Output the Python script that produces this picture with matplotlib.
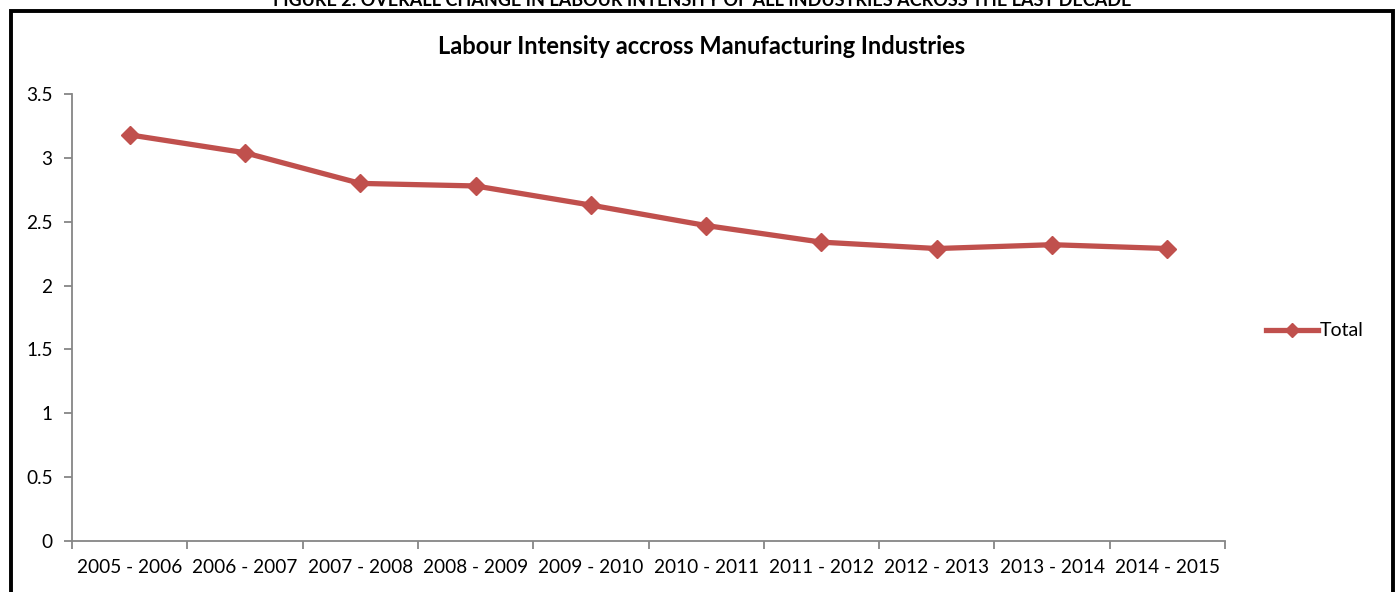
import matplotlib
matplotlib.use("Agg")
import matplotlib.pyplot as plt
from matplotlib.patches import Rectangle
from matplotlib.lines import Line2D

periods = ["2005 - 2006", "2006 - 2007", "2007 - 2008", "2008 - 2009", "2009 - 2010",
           "2010 - 2011", "2011 - 2012", "2012 - 2013", "2013 - 2014", "2014 - 2015"]
total = [3.18, 3.04, 2.80, 2.78, 2.63, 2.47, 2.34, 2.29, 2.32, 2.29]
yticks = [0, 0.5, 1, 1.5, 2, 2.5, 3, 3.5]
ytick_labels = ["0", "0.5", "1", "1.5", "2", "2.5", "3", "3.5"]

W, H = 1396, 592
fig = plt.figure(figsize=(W / 100, H / 100), dpi=100)
plt.rcParams['font.family'] = ['Lato', 'DejaVu Sans']

red = "#C0504D"
grey = "#868686"

ax = fig.add_axes([72 / W, 1 - 541 / H, (1225 - 72) / W, (541 - 94) / H])
x = list(range(len(periods)))
ax.plot(x, total, color=red, lw=3.8, marker="D", markersize=9.5,
        markerfacecolor=red, markeredgecolor=red, solid_joinstyle="round")
ax.set_xlim(-0.5, len(periods) - 0.5)
ax.set_ylim(0, 3.5)
ax.set_yticks(yticks)
ax.set_yticklabels(ytick_labels)
ax.set_xticks(x)
ax.set_xticklabels(periods)
ax.set_xticks([i - 0.5 for i in range(len(periods) + 1)], minor=True)
ax.tick_params(axis="x", which="major", length=0, pad=13, labelsize=13.7)
ax.tick_params(axis="x", which="minor", length=6, color=grey, width=1.3)
ax.tick_params(axis="y", length=6, color=grey, width=1.3, labelsize=13.7, pad=8)
for s in ["top", "right"]:
    ax.spines[s].set_visible(False)
for s in ["left", "bottom"]:
    ax.spines[s].set_color(grey)
    ax.spines[s].set_linewidth(1.3)

fig.text(702 / W, 1 - 46 / H, "Labour Intensity accross Manufacturing Industries",
         ha="center", va="center", fontsize=17, fontweight="bold")

# legend
handle = Line2D([0], [0], color=red, lw=3.8, marker="D", markersize=7,
                markerfacecolor=red, markeredgecolor=red)
fig.legend([handle], ["Total"], loc="center left", bbox_to_anchor=(1248 / W, 1 - 331 / H),
           frameon=False, fontsize=14, handlelength=2.7, handletextpad=0.1)

# outer frame
fig.patches.append(Rectangle((10.5 / W, -0.1), (1393 - 10.5) / W, (1 - 11 / H) + 0.1,
                             transform=fig.transFigure, fill=False, ec="black", lw=2.8))

fig.text(702 / W, 1 - 0 / H, "FIGURE 2: OVERALL CHANGE IN LABOUR INTENSITY OF ALL INDUSTRIES ACROSS THE LAST DECADE",
         ha="center", va="center", fontsize=13, fontweight="bold")

fig.savefig("out.png", dpi=100)
